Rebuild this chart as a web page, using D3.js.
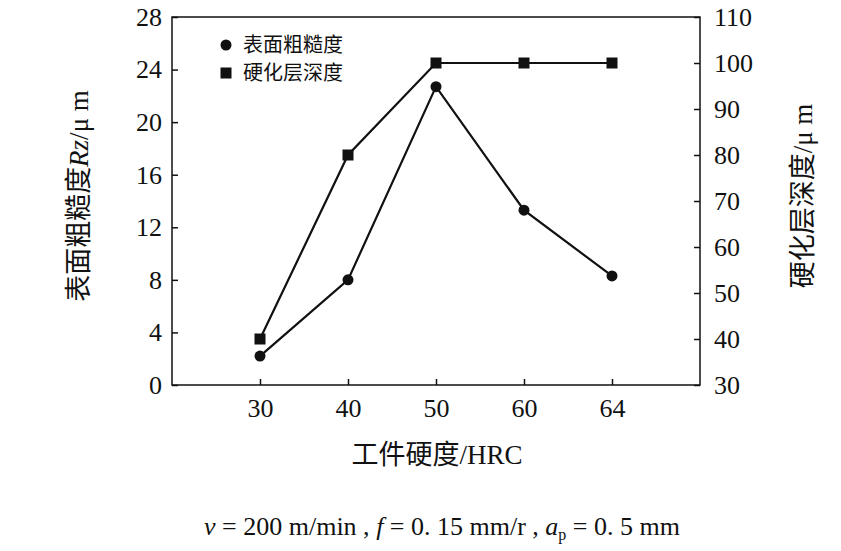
<!DOCTYPE html>
<html><head><meta charset="utf-8">
<script src="https://cdn.jsdelivr.net/npm/d3@7"></script>
<style>body{margin:0;background:#fff}text{font-family:"Liberation Serif","Noto Sans CJK SC",serif;fill:#111}</style>
</head><body><svg id="c" width="841" height="551"></svg>
<script>
const categories=["30","40","50","60","64"];
const roughness=[2.2,8.0,22.7,13.3,8.3];
const depth=[40,80,100,100,100];
const leftTicks=[0,4,8,12,16,20,24,28];
const rightTicks=[30,40,50,60,70,80,90,100,110];
const svg=d3.select("#c");
const L=172,R=700,T=17,B=385;
const x=d3.scalePoint().domain(categories).range([L,R]).padding(1);
const yl=d3.scaleLinear().domain([0,28]).range([B,T]);
const yr=d3.scaleLinear().domain([30,110]).range([B,T]);
svg.append("rect").attr("x",L).attr("y",T).attr("width",R-L).attr("height",B-T).attr("fill","none").attr("stroke","#111").attr("stroke-width",1.5);
const fs="26px";
const ax1=svg.append("g").attr("transform",`translate(${L},0)`).call(d3.axisLeft(yl).tickValues(leftTicks).tickSizeInner(-6).tickSizeOuter(0).tickPadding(10));
const ax2=svg.append("g").attr("transform",`translate(${R},0)`).call(d3.axisRight(yr).tickValues(rightTicks).tickSizeInner(-6).tickSizeOuter(0).tickPadding(14));
const ax3=svg.append("g").attr("transform",`translate(0,${B})`).call(d3.axisBottom(x).tickSizeInner(-6).tickSizeOuter(0).tickPadding(14));
[ax1,ax2,ax3].forEach(a=>{a.select(".domain").remove();a.selectAll("line").attr("stroke","#111").attr("stroke-width",1.5);a.selectAll("text").style("font-size",fs).attr("font-family","Liberation Serif");});
const line=(s,ys)=>d3.line().x((d,i)=>x(categories[i])).y(d=>ys(d))(s);
svg.append("path").attr("d",line(roughness,yl)).attr("fill","none").attr("stroke","#111").attr("stroke-width",2.2);
svg.append("path").attr("d",line(depth,yr)).attr("fill","none").attr("stroke","#111").attr("stroke-width",2.2);
svg.selectAll(".c").data(roughness).join("circle").attr("cx",(d,i)=>x(categories[i])).attr("cy",d=>yl(d)).attr("r",5.5).attr("fill","#111");
svg.selectAll(".s").data(depth).join("rect").attr("x",(d,i)=>x(categories[i])-5.5).attr("y",d=>yr(d)-5.5).attr("width",11).attr("height",11).attr("fill","#111");
// legend
svg.append("circle").attr("cx",226).attr("cy",45).attr("r",5.5).attr("fill","#111");
svg.append("rect").attr("x",220.5).attr("y",67.5).attr("width",11).attr("height",11).attr("fill","#111");
svg.append("text").attr("x",243).attr("y",52).style("font-size","20px").text("表面粗糙度");
svg.append("text").attr("x",243).attr("y",80).style("font-size","20px").text("硬化层深度");
// titles
svg.append("text").attr("transform","translate(88,196) rotate(-90)").attr("text-anchor","middle").style("font-size","27px")
 .html('表面粗糙度<tspan font-style="italic">Rz</tspan>/μ m');
svg.append("text").attr("transform","translate(812,196) rotate(-90)").attr("text-anchor","middle").style("font-size","27px").text("硬化层深度/μ m");
svg.append("text").attr("x",437).attr("y",464).attr("text-anchor","middle").style("font-size","27px").text("工件硬度/HRC");
svg.append("text").attr("x",442).attr("y",535).attr("text-anchor","middle").style("font-size","26px")
 .html('<tspan font-style="italic">v</tspan> = 200 m/min , <tspan font-style="italic">f</tspan> = 0. 15 mm/r , <tspan font-style="italic">a</tspan><tspan font-size="16px" dy="5">p</tspan><tspan dy="-5"> = 0. 5 mm</tspan>');
</script></body></html>
